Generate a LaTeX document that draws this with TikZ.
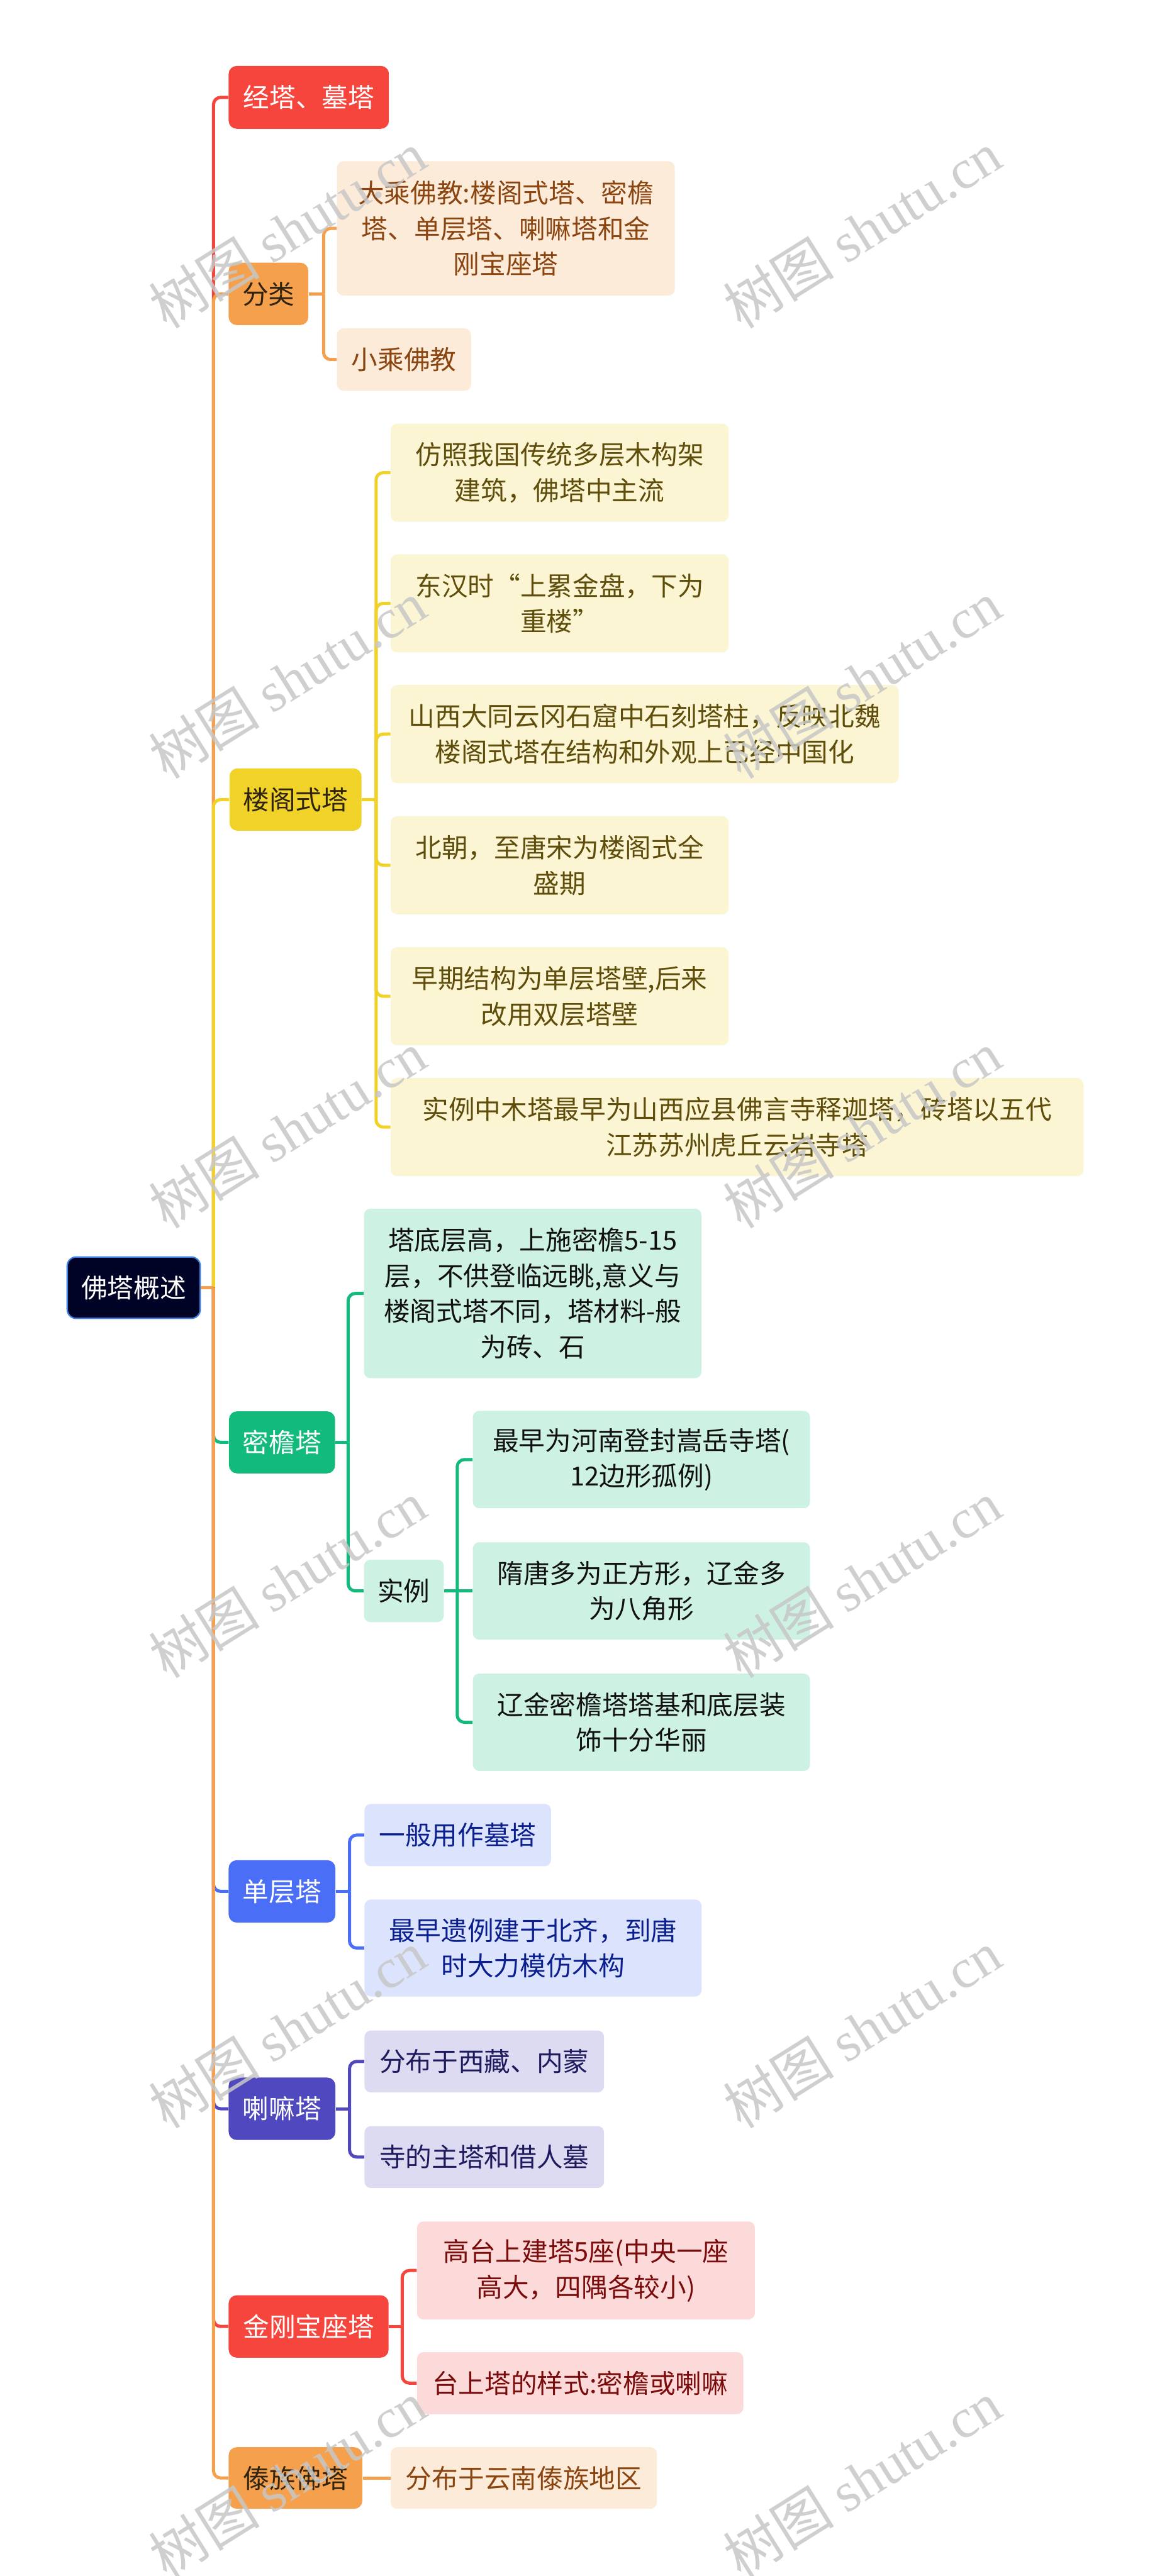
\documentclass[tikz,border=0pt]{standalone}
\usepackage{fontspec}
\setmainfont{Noto Sans CJK SC}
\newfontfamily\wmlat{Liberation Serif}
\newfontfamily\wmcjk{Noto Sans CJK SC}
\newcommand\mmfont{\fontsize{14.6pt}{19.8pt}\selectfont}
\definecolor{cRed}{HTML}{F5453D}
\definecolor{cOrg}{HTML}{F4A04C}
\definecolor{cYel}{HTML}{F0D229}
\definecolor{cGrn}{HTML}{12BB7C}
\definecolor{cBlu}{HTML}{4B6EF6}
\definecolor{cInd}{HTML}{4F48BE}
\definecolor{rootF}{HTML}{010326}
\definecolor{rootB}{HTML}{3F7FE0}
\definecolor{fOrg}{HTML}{FDEBDA}
\definecolor{fYel}{HTML}{FCF5D3}
\definecolor{fGrn}{HTML}{CDF1E2}
\definecolor{fBlu}{HTML}{DCE3FC}
\definecolor{fInd}{HTML}{DDDBF2}
\definecolor{fRed}{HTML}{FDDADA}
\definecolor{tOrg}{HTML}{8A4511}
\definecolor{tYel}{HTML}{5E4D0B}
\definecolor{tGrn}{HTML}{111111}
\definecolor{tBlu}{HTML}{0B1F8F}
\definecolor{tInd}{HTML}{1E1A5E}
\definecolor{tRed}{HTML}{7B0C0C}
\definecolor{tDark}{HTML}{2E2410}
\begin{document}
\begin{tikzpicture}[x=0.9143pt,y=-0.9143pt,
  sz/.style 2 args={minimum width={#1*0.9143pt},minimum height={#2*0.9143pt}},
  mmbox/.style={anchor=west,align=center,inner sep=0pt,font=\mmfont,rounded corners=3.6pt},
  lvlone/.style={mmbox,rounded corners=4.5pt},
  ln/.style={line width=1.75pt,draw=#1},
  rc/.style={rounded corners=4pt},
  wm/.style={rotate=32,text=black!22,opacity=0.85,inner sep=0pt,font=\fontsize{31pt}{31pt}\selectfont}
]
\fill[white] (0,0) rectangle (700,1569);
\useasboundingbox (0,0) rectangle (700,1569);

% root
\node[mmbox,fill=rootF,draw=rootB,line width=0.8pt,text=white,sz={81}{37.4},rounded corners=5pt] (root) at (40.5,784.3) {佛塔概述};

% level one
\node[lvlone,fill=cRed,text=white,sz={97.6}{38.3}] (jt) at (139,59.3) {经塔、墓塔};
\node[lvlone,fill=cOrg,text=tDark,sz={48.5}{38}] (fl) at (139,179) {分类};
\node[lvlone,fill=cYel,text=tDark,sz={80.4}{38}] (lg) at (139.5,487) {楼阁式塔};
\node[lvlone,fill=cGrn,text=white,sz={64.6}{37.8}] (my) at (139.2,878.5) {密檐塔};
\node[lvlone,fill=cBlu,text=white,sz={65}{38}] (dc) at (139,1152) {单层塔};
\node[lvlone,fill=cInd,text=white,sz={65}{38}] (lm) at (139,1284.4) {喇嘛塔};
\node[lvlone,fill=cRed,text=white,sz={97.4}{38}] (jg) at (139,1417) {金刚宝座塔};
\node[lvlone,fill=cOrg,text=tDark,sz={81.4}{37.5}] (dz) at (139,1509.3) {傣族佛塔};

% 分类 children
\node[mmbox,fill=fOrg,text=tOrg,sz={205.7}{81.8}] (fl1) at (205,139.1) {大乘佛教:楼阁式塔、密檐\\塔、单层塔、喇嘛塔和金\\刚宝座塔};
\node[mmbox,fill=fOrg,text=tOrg,sz={81.6}{38}] (fl2) at (205,219) {小乘佛教};

% 楼阁式塔 children
\node[mmbox,fill=fYel,text=tYel,sz={205.7}{59.8}] (lg1) at (237.7,287.9) {仿照我国传统多层木构架\\建筑，佛塔中主流};
\node[mmbox,fill=fYel,text=tYel,sz={205.7}{59.8}] (lg2) at (237.7,367.5) {东汉时“上累金盘，下为\\重楼”};
\node[mmbox,fill=fYel,text=tYel,sz={309.3}{59.8}] (lg3) at (237.7,447.1) {山西大同云冈石窟中石刻塔柱，反映北魏\\楼阁式塔在结构和外观上已经中国化};
\node[mmbox,fill=fYel,text=tYel,sz={205.7}{59.8}] (lg4) at (237.7,527) {北朝，至唐宋为楼阁式全\\盛期};
\node[mmbox,fill=fYel,text=tYel,sz={205.7}{59.8}] (lg5) at (237.7,606.8) {早期结构为单层塔壁,后来\\改用双层塔壁};
\node[mmbox,fill=fYel,text=tYel,sz={421.8}{59.8}] (lg6) at (237.7,686.5) {实例中木塔最早为山西应县佛言寺释迦塔，砖塔以五代\\江苏苏州虎丘云岩寺塔};

% 密檐塔 children
\node[mmbox,fill=fGrn,text=tGrn,sz={205.5}{103.2}] (my1) at (221.4,787.8) {塔底层高，上施密檐5-15\\层，不供登临远眺,意义与\\楼阁式塔不同，塔材料-般\\为砖、石};
\node[mmbox,fill=fGrn,text=tGrn,sz={48.6}{38}] (my2) at (221.4,969) {实例};
\node[mmbox,fill=fGrn,text=tGrn,sz={205.3}{59.3}] (s1) at (287.7,889) {最早为河南登封嵩岳寺塔(\\12边形孤例)};
\node[mmbox,fill=fGrn,text=tGrn,sz={205.3}{59.3}] (s2) at (287.7,969) {隋唐多为正方形，辽金多\\为八角形};
\node[mmbox,fill=fGrn,text=tGrn,sz={205.3}{59.3}] (s3) at (287.7,1049) {辽金密檐塔塔基和底层装\\饰十分华丽};

% 单层塔 children
\node[mmbox,fill=fBlu,text=tBlu,sz={113.6}{38}] (dc1) at (221.7,1117.7) {一般用作墓塔};
\node[mmbox,fill=fBlu,text=tBlu,sz={205.3}{59}] (dc2) at (221.7,1186.5) {最早遗例建于北齐，到唐\\时大力模仿木构};

% 喇嘛塔 children
\node[mmbox,fill=fInd,text=tInd,sz={145.9}{37.7}] (lm1) at (221.7,1255.6) {分布于西藏、内蒙};
\node[mmbox,fill=fInd,text=tInd,sz={145.9}{37.7}] (lm2) at (221.7,1313.8) {寺的主塔和借人墓};

% 金刚宝座塔 children
\node[mmbox,fill=fRed,text=tRed,sz={205.7}{59.7}] (jg1) at (253.7,1382.9) {高台上建塔5座(中央一座\\高大，四隅各较小)};
\node[mmbox,fill=fRed,text=tRed,sz={198.7}{37.7}] (jg2) at (253.7,1451.5) {台上塔的样式:密檐或喇嘛};

% 傣族佛塔 child
\node[mmbox,fill=fOrg,text=tOrg,sz={162}{37.5}] (dz1) at (237.7,1509.3) {分布于云南傣族地区};

% trunk connectors
\coordinate (jR) at (130,784.3);
\draw[ln=cRed,rc] (jR) |- (jt.west);
\draw[ln=cOrg,rc] (jR) |- (fl.west);
\draw[ln=cYel,rc] (jR) |- (lg.west);
\draw[ln=cGrn,rc] (jR) |- (my.west);
\draw[ln=cBlu,rc] (jR) |- (dc.west);
\draw[ln=cInd,rc] (jR) |- (lm.west);
\draw[ln=cRed,rc] (jR) |- (jg.west);
\draw[ln=cOrg,rc] (jR) |- (dz.west);
\draw[ln=cOrg] (root.east) -- (jR);

% 分类
\coordinate (jFL) at (197,179);
\draw[ln=cOrg] (fl.east) -- (jFL);
\draw[ln=cOrg,rc] (jFL) |- (fl1.west);
\draw[ln=cOrg,rc] (jFL) |- (fl2.west);

% 楼阁式塔
\coordinate (jLG) at (229,487);
\draw[ln=cYel] (lg.east) -- (jLG);
\foreach \c in {lg1,lg2,lg3,lg4,lg5,lg6} {\draw[ln=cYel,rc] (jLG) |- (\c.west);}

% 密檐塔
\coordinate (jMY) at (212,878.5);
\draw[ln=cGrn] (my.east) -- (jMY);
\draw[ln=cGrn,rc] (jMY) |- (my1.west);
\draw[ln=cGrn,rc] (jMY) |- (my2.west);
\coordinate (jSL) at (278.4,969);
\draw[ln=cGrn] (my2.east) -- (jSL);
\draw[ln=cGrn,rc] (jSL) |- (s1.west);
\draw[ln=cGrn] (jSL) -- (s2.west);
\draw[ln=cGrn,rc] (jSL) |- (s3.west);

% 单层塔
\coordinate (jDC) at (212.8,1152);
\draw[ln=cBlu] (dc.east) -- (jDC);
\draw[ln=cBlu,rc] (jDC) |- (dc1.west);
\draw[ln=cBlu,rc] (jDC) |- (dc2.west);

% 喇嘛塔
\coordinate (jLM) at (212.8,1284.4);
\draw[ln=cInd] (lm.east) -- (jLM);
\draw[ln=cInd,rc] (jLM) |- (lm1.west);
\draw[ln=cInd,rc] (jLM) |- (lm2.west);

% 金刚宝座塔
\coordinate (jJG) at (244.9,1417);
\draw[ln=cRed] (jg.east) -- (jJG);
\draw[ln=cRed,rc] (jJG) |- (jg1.west);
\draw[ln=cRed,rc] (jJG) |- (jg2.west);

% 傣族佛塔
\draw[ln=cOrg] (dz.east) -- (dz1.west);

% watermarks
\foreach \yy [count=\i] in {140,414,688,962,1236,1510} {
  \node[wm] (wl\i) at (175,\yy) {\wmcjk 树图 \wmlat shutu.cn};
  \node[wm] (wr\i) at (525,\yy) {\wmcjk 树图 \wmlat shutu.cn};
}
\end{tikzpicture}
\end{document}
